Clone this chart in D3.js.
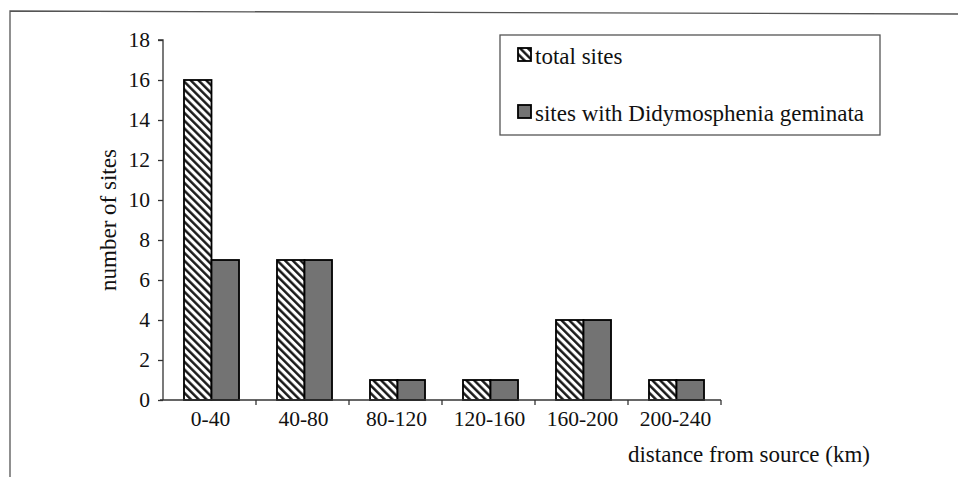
<!DOCTYPE html>
<html>
<head>
<meta charset="utf-8">
<script src="https://cdn.jsdelivr.net/npm/d3@7"></script>
<style>
  body { margin: 0; background: #fff; }
  svg { display: block; font-family: "Liberation Serif", "DejaVu Serif", serif; }
</style>
</head>
<body>
<div id="chart"></div>
<script>
const categories = ["0-40", "40-80", "80-120", "120-160", "160-200", "200-240"];
const seriesNames = ["total sites", "sites with Didymosphenia geminata"];
const totalSites = [16, 7, 1, 1, 4, 1];
const sitesWithDidymo = [7, 7, 1, 1, 4, 1];
const yTicks = [0, 2, 4, 6, 8, 10, 12, 14, 16, 18];

const width = 958;
const height = 477;
const plot = { left: 163, right: 721, top: 40, bottom: 400 };
const hatchId = "hatch";
const grayFill = "#737373";

const svg = d3.select("#chart").append("svg")
  .attr("width", width)
  .attr("height", height);

// hatch pattern for "total sites"
const defs = svg.append("defs");
const pattern = defs.append("pattern")
  .attr("id", hatchId)
  .attr("patternUnits", "userSpaceOnUse")
  .attr("width", 5.5)
  .attr("height", 5.5)
  .attr("patternTransform", "rotate(-45)");
pattern.append("rect")
  .attr("width", 5.5).attr("height", 5.5).attr("fill", "#fff");
pattern.append("line")
  .attr("x1", 1.3).attr("y1", 0).attr("x2", 1.3).attr("y2", 5.5)
  .attr("stroke", "#111").attr("stroke-width", 2.4);

// outer frame
svg.append("path")
  .attr("d", "M10," + height + " L10,11 L" + width + ",14")
  .attr("fill", "none")
  .attr("stroke", "#555")
  .attr("stroke-width", 1.3);

const x0 = d3.scaleBand()
  .domain(categories)
  .range([plot.left, plot.right])
  .padding(0);

const x1 = d3.scaleBand()
  .domain(seriesNames)
  .range([2, x0.bandwidth() + 2])
  .paddingInner(0)
  .paddingOuter(0.69);

const y = d3.scaleLinear()
  .domain([0, 18])
  .range([plot.bottom, plot.top]);

const data = categories.map((c, i) => ({
  category: c,
  values: [
    { key: seriesNames[0], value: totalSites[i] },
    { key: seriesNames[1], value: sitesWithDidymo[i] }
  ]
}));

const fillFor = key => key === seriesNames[0] ? `url(#${hatchId})` : grayFill;

// bars
svg.append("g")
  .selectAll("g")
  .data(data)
  .join("g")
  .attr("transform", d => `translate(${x0(d.category)},0)`)
  .selectAll("rect")
  .data(d => d.values)
  .join("rect")
  .attr("x", d => x1(d.key))
  .attr("y", d => y(d.value))
  .attr("width", x1.bandwidth())
  .attr("height", d => y(0) - y(d.value))
  .attr("fill", d => fillFor(d.key))
  .attr("stroke", "#000")
  .attr("stroke-width", 1.8);

// y axis
const yAxis = svg.append("g")
  .attr("transform", `translate(${plot.left},0)`)
  .call(d3.axisLeft(y).tickValues(yTicks).tickSize(5).tickPadding(8));
yAxis.select(".domain").attr("stroke", "#333").attr("stroke-width", 1.3)
  .attr("d", `M-5,${plot.top}H0V${plot.bottom}`);
yAxis.selectAll(".tick line").attr("stroke", "#333").attr("stroke-width", 1.3);
yAxis.selectAll(".tick text")
  .attr("font-size", 21.5)
  .attr("fill", "#111")
  .attr("font-family", "Liberation Serif, serif");

// x axis
const xAxisG = svg.append("g")
  .attr("transform", `translate(0,${plot.bottom})`);
xAxisG.append("line")
  .attr("x1", plot.left - 3).attr("x2", plot.right)
  .attr("stroke", "#333").attr("stroke-width", 1.3);
const boundaries = categories.map(c => x0(c) + x0.bandwidth());
xAxisG.selectAll(".xt")
  .data(boundaries)
  .join("line")
  .attr("class", "xt")
  .attr("x1", d => d).attr("x2", d => d)
  .attr("y1", 0).attr("y2", 5)
  .attr("stroke", "#333").attr("stroke-width", 1.3);
xAxisG.selectAll(".xl")
  .data(categories)
  .join("text")
  .attr("class", "xl")
  .attr("x", d => x0(d) + x0.bandwidth() / 2 + 1)
  .attr("y", 26)
  .attr("text-anchor", "middle")
  .attr("font-size", 21.5)
  .attr("fill", "#111")
  .text(d => d);

// axis titles
svg.append("text")
  .attr("transform", "translate(116,220) rotate(-90)")
  .attr("text-anchor", "middle")
  .attr("font-size", 23)
  .attr("fill", "#111")
  .text("number of sites");

svg.append("text")
  .attr("x", 749)
  .attr("y", 462)
  .attr("text-anchor", "middle")
  .attr("font-size", 23)
  .attr("fill", "#111")
  .text("distance from source (km)");

// legend
const legend = svg.append("g").attr("transform", "translate(500,35)");
legend.append("rect")
  .attr("width", 380).attr("height", 100)
  .attr("fill", "#fff").attr("stroke", "#555").attr("stroke-width", 1.3);
const items = legend.selectAll(".legend")
  .data(seriesNames)
  .join("g")
  .attr("class", "legend")
  .attr("transform", (d, i) => `translate(18,${13 + i * 57})`);
items.append("rect")
  .attr("width", 13).attr("height", 13)
  .attr("fill", d => d === seriesNames[0] ? `url(#${hatchId})` : grayFill)
  .attr("stroke", "#000").attr("stroke-width", 1.8);
items.append("text")
  .attr("x", 17)
  .attr("y", 16)
  .attr("font-size", 23)
  .attr("fill", "#111")
  .text(d => d);
</script>
</body>
</html>
